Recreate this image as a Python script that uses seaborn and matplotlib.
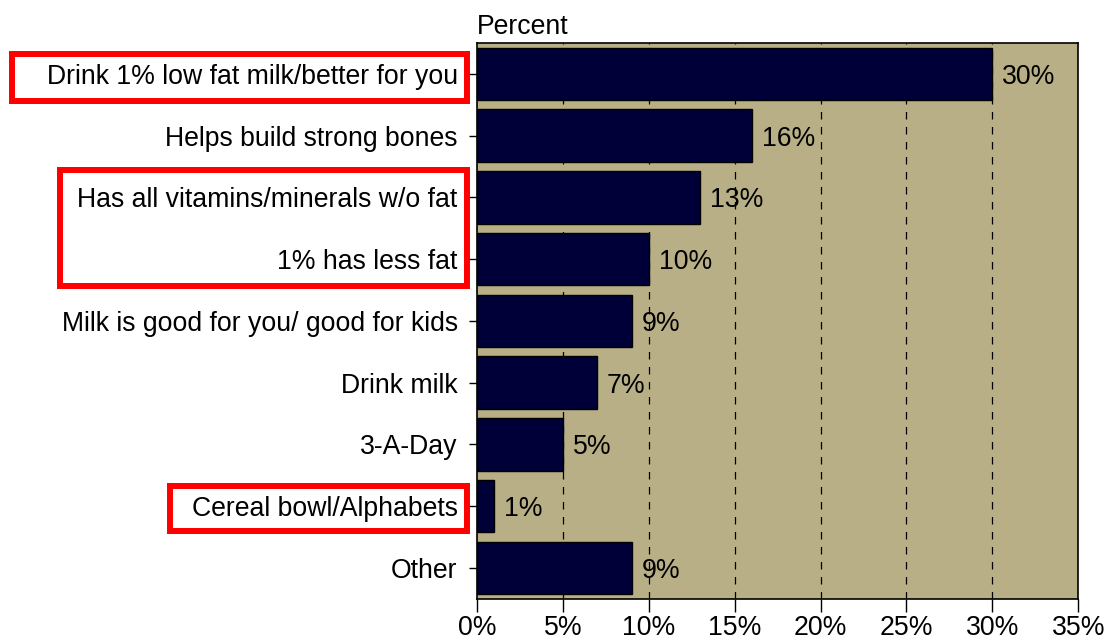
import matplotlib
matplotlib.use("Agg")
import matplotlib.pyplot as plt
import matplotlib.transforms as mtransforms
from matplotlib.patches import Rectangle
import seaborn as sns
import pandas as pd

categories = [
    "Drink 1% low fat milk/better for you",
    "Helps build strong bones",
    "Has all vitamins/minerals w/o fat",
    "1% has less fat",
    "Milk is good for you/ good for kids",
    "Drink milk",
    "3-A-Day",
    "Cereal bowl/Alphabets",
    "Other",
]
values = [30, 16, 13, 10, 9, 7, 5, 1, 9]
xticks = [0, 5, 10, 15, 20, 25, 30, 35]
xtick_labels = [f"{t}%" for t in xticks]

# highlighted label groups: (first row, last row, left edge in figure fraction)
highlights = [(0, 0, 0.0108), (2, 3, 0.0542), (7, 7, 0.1536)]

df = pd.DataFrame({"reason": categories, "pct": values})

sns.set_theme(style="white")
plt.rcParams["font.family"] = ["Liberation Sans", "DejaVu Sans"]
plt.rcParams["text.color"] = "black"
plt.rcParams["xtick.color"] = "black"
plt.rcParams["ytick.color"] = "black"

FS = 19.2

fig = plt.figure(figsize=(11.07, 6.43), dpi=100)
ax = fig.add_axes([0.431, 0.069, 0.543, 0.864])

bg = "#B8AF87"
bar_color = "#000038"
ax.set_facecolor(bg)

sns.barplot(data=df, x="pct", y="reason", orient="h", color=bar_color,
            saturation=1, width=0.85, edgecolor="black", linewidth=1,
            ax=ax, zorder=3)

ax.set_xlim(0, 35)
ax.set_ylim(len(categories) - 0.5, -0.5)
ax.set_xticks(xticks)
ax.set_xticklabels(xtick_labels, fontsize=FS, color="black")
ax.set_yticks(range(len(categories)))
ax.set_yticklabels(categories, fontsize=FS, color="black",
                   va="center_baseline")
ax.tick_params(axis="y", length=6, width=1, color="black",
               direction="out", left=True, pad=8)
ax.tick_params(axis="x", length=9, width=1, color="black", direction="out",
               bottom=True, pad=3)
ax.set_xlabel("")
ax.set_ylabel("")

for t in xticks[1:-1]:
    ax.axvline(t, color="black", linestyle=(0, (6, 6)), linewidth=0.9,
               zorder=1)

for s in ax.spines.values():
    s.set_visible(True)
    s.set_color("black")
    s.set_linewidth(1.2)

for i, v in enumerate(values):
    ax.annotate(f"{v}%", xy=(v, i), xytext=(7, 0), textcoords="offset points",
                va="center_baseline", ha="left", fontsize=FS, color="black",
                zorder=4)

ax.text(0.0, 1.006, "Percent", transform=ax.transAxes, ha="left", va="bottom",
        fontsize=FS, color="black")

# red frames around selected category labels
trans = mtransforms.blended_transform_factory(fig.transFigure, ax.transData)
right = 0.4218
pad_top = {0: 0.32, 2: 0.44, 7: 0.33}
pad_bot = {0: 0.44, 3: 0.44, 7: 0.40}
for first, last, left in highlights:
    top = first - pad_top[first]
    bottom = last + pad_bot[last]
    fig.add_artist(Rectangle((left, top), right - left, bottom - top,
                             transform=trans, fill=False, edgecolor="#FF0000",
                             linewidth=4.3, clip_on=False))

fig.savefig("out.png", dpi=100, facecolor="white")
